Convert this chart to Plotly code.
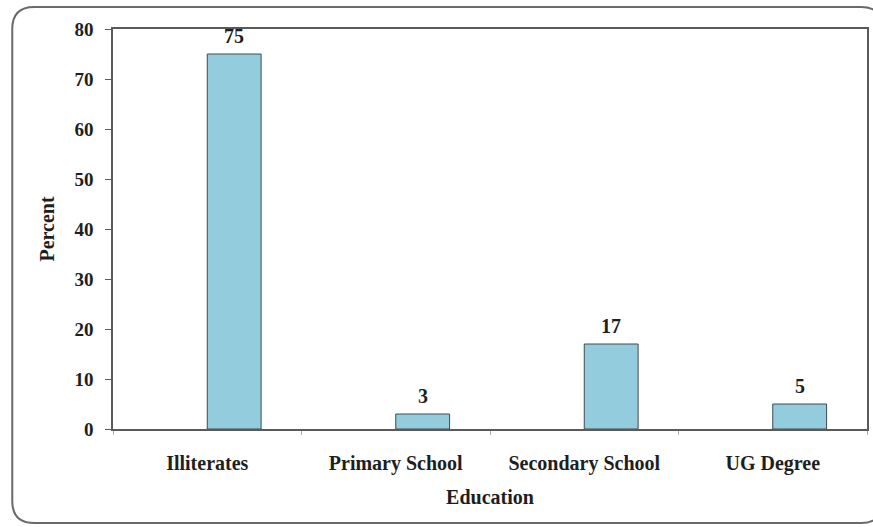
import plotly.graph_objects as go

categories = ["Illiterates", "Primary School", "Secondary School", "UG Degree"]
percent = [75, 3, 17, 5]
y_ticks = [0, 10, 20, 30, 40, 50, 60, 70, 80]

W, H = 873, 527
ML, MR, MT, MB = 113, 4, 29, 98
pw, ph = W - ML - MR, H - MT - MB

bar_width = 0.2857
font_family = "Liberation Serif"
text_color = "#1e1e1e"

fig = go.Figure()
fig.add_trace(go.Bar(
    x=categories, y=percent,
    width=bar_width, offset=0,
    marker=dict(color="#93CDDD", line=dict(color="#3f4a50", width=1)),
    hoverinfo="skip",
))

# value labels
for i, v in enumerate(percent):
    fig.add_annotation(
        x=i + bar_width / 2, y=v, xref="x", yref="y",
        text="<b>%d</b>" % v, showarrow=False,
        yanchor="bottom", yshift=5,
        font=dict(family=font_family, size=20, color=text_color),
    )

# outer rounded frame (decoration), in paper coordinates
def px_x(p):
    return (p - ML) / pw

def px_y(p):
    return (H - MB - p) / ph

L, T, R, B, r = 12, 7, 885, 523, 22
path = (
    f"M {px_x(L + r)} {px_y(T)} L {px_x(R - r)} {px_y(T)} "
    f"Q {px_x(R)} {px_y(T)} {px_x(R)} {px_y(T + r)} "
    f"L {px_x(R)} {px_y(B - r)} Q {px_x(R)} {px_y(B)} {px_x(R - r)} {px_y(B)} "
    f"L {px_x(L + r)} {px_y(B)} Q {px_x(L)} {px_y(B)} {px_x(L)} {px_y(B - r)} "
    f"L {px_x(L)} {px_y(T + r)} Q {px_x(L)} {px_y(T)} {px_x(L + r)} {px_y(T)} Z"
)
fig.add_shape(type="path", path=path, xref="paper", yref="paper",
              line=dict(color="#6a6a6a", width=2), layer="below")

fig.update_layout(
    width=W, height=H,
    margin=dict(l=ML, r=MR, t=MT, b=MB),
    paper_bgcolor="white", plot_bgcolor="white",
    showlegend=False,
    font=dict(family=font_family, color=text_color),
)
fig.update_xaxes(
    type="category",
    showline=True, mirror=True, linecolor="#5a5a5a", linewidth=1.5,
    ticks="outside", tickson="boundaries", ticklen=4, tickcolor="#b0b0b0",
    tickfont=dict(family=font_family, size=20, color=text_color),
    tickprefix="<b>", ticksuffix="</b>",
    ticklabelstandoff=15,
    title=dict(text="<b>Education</b>", font=dict(family=font_family, size=20, color=text_color), standoff=16),
    showgrid=False, zeroline=False,
)
fig.update_yaxes(
    range=[0, 80], tickvals=y_ticks, ticktext=["<b>%d</b>" % t for t in y_ticks],
    showline=True, mirror=True, linecolor="#5a5a5a", linewidth=1.5,
    ticks="outside", ticklen=6, tickcolor="#5a5a5a",
    tickfont=dict(family=font_family, size=19, color=text_color),
    ticklabelstandoff=8,
    title=dict(text="<b>Percent</b>", font=dict(family=font_family, size=20, color=text_color), standoff=14),
    showgrid=False, zeroline=False,
)

fig.write_html("out.html", config={"displayModeBar": False},
               post_script="document.body.style.margin='0';")
